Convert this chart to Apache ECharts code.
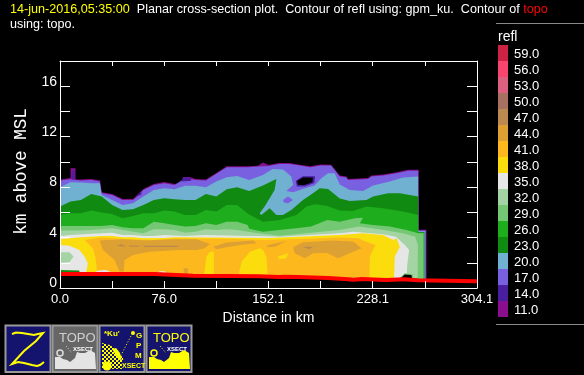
<!DOCTYPE html>
<html>
<head>
<meta charset="utf-8">
<style>html,body{margin:0;padding:0;background:#000}#main{width:584px;height:375px}</style>
<script src="https://cdn.jsdelivr.net/npm/echarts@6/dist/echarts.min.js"></script>
</head>
<body>
<div id="main"></div>
<script>
// colour scale, top to bottom
var levels = ['59.0','56.0','53.0','50.0','47.0','44.0','41.0','38.0','35.0','32.0','29.0','26.0','23.0','20.0','17.0','14.0','11.0'];
var levelColors = ['#cc2244','#f8456f','#dc6080','#a87060','#bc8a50','#dda033','#fdb81e','#fbdc0d','#e6e6e6','#a4d4a4','#74c874','#1dad1d','#118a11','#70b0d0','#7860e0','#4a1ea0','#8a0e8e'];
var xTickLabels = ['0.0','76.0','152.1','228.1','304.1'];

// contour outlines, [distance km, height km]
var top11 = [[0,8.6],[6.5,8.7],[7.7,8.75],[7.7,9.5],[11.3,9.5],[11.3,8.6],[15.2,8.6],[22.8,8.65],[29.3,8.52],[30.4,7.6],[38,7.45],[45.6,7.05],[53.2,7.05],[57,7.45],[60.8,7.85],[68.4,8.25],[76,8.4],[83.6,8.25],[88.6,8.4],[89.8,8.8],[94.7,8.8],[98.8,8.65],[106.4,8.6],[114,9.12],[121.6,9.65],[136.8,9.65],[144.4,9.7],[148,9.95],[152,9.75],[159.7,9.92],[167.3,9.92],[174.9,9.78],[182.5,9.65],[190,9.8],[197.7,9.78],[204,8.92],[208.9,8.84],[210,8.65],[224.7,8.73],[227,8.92],[235.6,9],[245.4,9.18],[253.9,9.37],[261.6,9.37],[261.6,4.62],[267.3,4.62],[267.3,0.5]];
var top17 = [[0,8.52],[7.6,8.62],[15.2,8.52],[22.8,8.57],[29,8.44],[30.4,7.51],[38,7.38],[45.6,6.98],[53.2,6.98],[57,7.3],[60.8,7.78],[68.4,8.17],[76,8.31],[83.6,8.17],[91.2,8.7],[98.8,8.57],[106.4,8.52],[114,9.05],[121.6,9.58],[136.8,9.58],[144.4,9.63],[152,9.68],[159.7,9.84],[167.3,9.84],[174.9,9.71],[182.5,9.58],[190,9.71],[197.7,9.71],[204,8.84],[208.9,8.76],[210,8.57],[224.7,8.65],[227,8.84],[235.6,8.92],[245.4,9.1],[253.9,9.29],[261.2,9.29],[261.2,4.55],[266.8,4.55],[266.8,0.5]];
var top20 = [[0,7.99],[7.6,8.39],[15.2,8.36],[22.8,8.31],[29,8.31],[30.4,7.38],[38,6.98],[45.6,6.59],[53.2,6.72],[60.8,7.25],[68.4,7.78],[76,7.91],[83.6,7.83],[91.2,8.1],[98.8,8.1],[106.4,7.99],[114,8.44],[121.6,8.78],[129.2,8.89],[138,8.57],[148,8.97],[155,9.44],[162.6,9.39],[168.7,8.84],[170,8.17],[165,7.7],[170,7.59],[177,7.86],[185.7,8.12],[190.6,8.7],[195.5,9.1],[200.3,9.1],[204,8.2],[211.3,7.78],[221,7.7],[228.3,8.12],[240.5,8.44],[250.2,8.76],[261.2,8.84],[261.2,4.5],[266.2,4.5],[266.2,0.5]];
var top23 = [[0,6.46],[7.6,6.85],[15.2,6.98],[22.8,7.46],[30.4,7.25],[38,6.59],[45.6,6.19],[53.2,6.24],[60.8,6.59],[68.4,6.98],[76,7.12],[83.6,7.04],[91.2,6.98],[98.8,6.98],[106.4,7.46],[114,7.25],[121.6,7.83],[129.2,7.99],[138,7.7],[148,8.12],[157.8,8.65],[156.5,7.78],[152.9,7.12],[149.2,6.46],[145.6,5.93],[146.8,5.79],[152.9,6.32],[157.8,5.79],[162.6,5.79],[168.7,6.19],[177.2,6.98],[184.5,7.51],[189.4,7.91],[195.5,7.86],[204,7.1],[211.3,6.9],[223.5,6.98],[228.3,7.25],[239.3,7.51],[247.8,7.51],[261.2,7.25],[261.2,4.45],[265.8,4.45],[265.8,0.5]];
var top26 = [[0,5.79],[7.6,5.93],[15.2,5.93],[22.8,6.14],[30.4,5.98],[38,5.87],[45.6,5.53],[53.2,5.71],[60.8,5.93],[68.4,5.93],[76,6.14],[83.6,6.06],[91.2,5.79],[98.8,5.79],[106.4,6.19],[114,6.06],[121.6,6.59],[129.2,6.59],[136.8,5.9],[148,5.26],[160.2,5.4],[172.4,5.79],[179.7,6.46],[185.7,6.64],[194.3,6.53],[204,6.15],[213.7,6.11],[223.5,6.46],[235.6,6.32],[250.2,6.06],[261.2,5.79],[261.2,4.4],[265.5,4.4],[265.5,0.5]];
var top29 = [[0,4.92],[30.4,4.92],[38,5],[45.6,4.81],[53.2,4.74],[60.8,4.74],[68.4,5.26],[76,5.13],[83.6,5],[91.2,4.87],[98.8,4.92],[106.4,5.13],[114,5],[121.6,5.26],[129.2,5.26],[136.8,5],[138,4.7],[148,4.47],[160,4.6],[172,4.74],[183,4.87],[189,5.13],[195,5.4],[204,5.25],[215,5.53],[221,5.58],[218.6,5.13],[228.3,5],[240.5,4.87],[252.7,4.6],[261.2,4.34],[265.1,4.34],[265.1,0.5]];
var top32 = [[0,4.55],[15.2,4.55],[22.8,4.6],[30.4,4.66],[38,4.74],[45.6,4.6],[53.2,4.47],[60.8,4.34],[68.4,4.66],[76,4.66],[83.6,4.6],[91.2,4.39],[98.8,4.47],[106.4,4.66],[114,4.6],[121.6,4.66],[129.2,4.6],[136.8,4.47],[144.4,4.34],[160,4.15],[204,4.6],[218,4.87],[236,4.6],[250,4.34],[259,4.07],[261,3.41],[260.8,0.5]];
var top35 = [[0,4.13],[7.6,4.21],[30.4,4.34],[38,4.39],[45.6,4.21],[53,4.21],[61,4.13],[68,4.13],[76,4.21],[91,4.13],[106,4.21],[137,4.13],[144,4.13],[160,4.07],[204,4.34],[214,4.47],[235.6,4.26],[245,4.07],[251.5,3.41],[254.6,3.02],[253.2,1.83],[252.8,0.5]];
var top38 = [[0,3.86],[7.6,3.94],[15.2,4.02],[22.8,4.07],[30.4,4.13],[38,4.13],[45.6,4.02],[53,4.02],[61,3.94],[76,3.97],[84,4.02],[152,3.97],[204,4.2],[221,4.34],[235.6,4.21],[243,3.81],[245.4,3.94],[247.8,3.28],[244.2,2.49],[243.5,0.5]];
var top41 = [[17.9,3.81],[30,4],[46,3.88],[68,3.8],[84,3.93],[100,3.9],[120,3.9],[150,3.8],[190,3.95],[204,4],[218,3.95],[221,3.76],[230,3.41],[226,2.49],[225.6,0.5],[27,0.5],[27,1.3],[26,2.35],[24,3.15]];

// closed patches inside the bands
var yellowPatches = [
  [[104.4,0.5],[106.8,2.49],[109.3,2.88],[112.2,2.88],[112.2,0.5]],
  [[129.2,0.5],[132.4,2.09],[138.5,2.88],[145.8,3.15],[148,3.02],[150.5,2.49],[151.7,0.5]],
  [[159,2.49],[166.3,2.75],[165.1,2.35],[159.7,2.28]]
];
var top44Patches = [
  [[28.9,3.76],[45.9,3.86],[63,3.76],[82.5,3.86],[99.5,3.86],[109.3,3.49],[105.6,3.15],[99.5,3.02],[87.3,3.02],[65.4,2.88],[53.2,2.62],[47.1,2.22],[46.4,1.3],[43.5,1.3],[39.8,2.22],[31.3,3.02]],
  [[111.7,3.28],[121.4,3.6],[140.9,3.76],[143.3,3.54],[131.2,3.41],[121.4,3.23],[114.1,3.07]],
  [[151.7,3.41],[165.1,3.73],[156.6,3.28],[150.5,3.23]],
  [[170,3.23],[177.3,3.62],[199.2,3.76],[213.8,3.68],[219.9,3.15],[211.3,2.75],[202.8,2.35],[194.3,2.8],[184.6,2.75],[178.5,2.35],[171.2,2.75]],
  [[90.2,1.56],[93.4,1.56],[93.4,1.11],[90.2,1.11]]
];
var top47Patches = [
  [[41.5,3.33],[44.7,3.49],[48.4,3.28]],
  [[50.3,3.36],[57.6,3.36],[57.6,3.28],[50.3,3.28]],
  [[61,3.36],[86,3.36],[86,3.25],[61,3.25]],
  [[176.8,3.28],[184.6,3.28],[181.7,3.07]]
];
var whitePatches = [
  [[0,3.41],[6.9,3.36],[14.2,3.02],[17.9,2.49],[20.3,1.96],[19.1,1.2],[0,1.2]],
  [[23.5,1.11],[27.7,1.38],[33.7,1.43],[39,1.16]],
  [[69,1.03],[72.7,1.32],[76.4,1.32],[79.5,1]]
];
var paleGreenPatches = [[[0,2.83],[6.9,2.83],[9.9,2.49],[6.9,2.04],[0,2]]];
var darkGreenPatches = [
  [[0,1.43],[14,1.38],[14.5,1.1],[0,1.1]],
  [[26.4,1.16],[30,1.27],[35,1.27],[37.4,1.11]],
  [[71.5,1.11],[74,1.22],[77,1.11]]
];
var lightGreenPatches = [
  [[99,1.02],[152,0.98],[152,0.8],[99,0.8]],
  [[246.6,0.7],[251.4,1.16],[257.5,1.08],[257.5,0.7]]
];
var bluePatches = [[[1,1.25],[12,1.2],[12,1],[1,1]]];
var purplePatches = [[[162.6,6.98],[166.3,7.25],[169.9,6.98],[166.3,6.72],[163.4,6.77]]];
var top14Patches = [
  [[8.5,8.6],[8.5,9.3],[10.5,9.3],[10.5,8.6]],
  [[55.7,7.3],[59.3,7.65],[59.3,7.37]],
  [[88.6,8.44],[89.8,8.76],[94.7,8.76],[95.9,8.5]],
  [[0,1.3],[5,1.25],[5,1],[0,1]],
  [[171.9,8.49],[177,8.86],[186,8.86],[185.5,8.33],[178.4,8.05],[172.8,8.05]]
];
var emptyPatches = [
  [[172.8,8.49],[177.2,8.76],[184.5,8.76],[184,8.39],[178.4,8.17],[173.6,8.17]],
  [[247.8,0.7],[251.4,1.08],[256.3,1.03],[256.8,0.7]]
];

// topo line, stepped
var groundKm = [0,69,97,145.7,159,164,173.6,195.5,210,213.8,219.9,238.2,250.4,261.2,304.1];
var groundHeight = [1.11,0.98,0.93,0.87,0.9,0.87,0.79,0.69,0.66,0.71,0.63,0.69,0.61,0.53,0.53];

function color(level) { return levelColors[levels.indexOf(level)]; }
function band(level, points) {
  // a band outline closes down to the bottom of the plot
  var first = points[0], last = points[points.length - 1];
  return { color: color(level), points: points.concat([[last[0], 0], [first[0], 0]]) };
}
function patches(fill, list) {
  return list.map(function (points) { return { color: fill, points: points }; });
}
var layers = [].concat(
  band('11.0', top11), band('17.0', top17),
  patches(color('14.0'), top14Patches),
  band('20.0', top20), patches(color('17.0'), purplePatches),
  band('23.0', top23), band('26.0', top26), band('29.0', top29),
  band('32.0', top32), band('35.0', top35), band('38.0', top38),
  { color: color('41.0'), points: top41 },
  patches(color('38.0'), yellowPatches),
  patches(color('44.0'), top44Patches),
  patches(color('47.0'), top47Patches),
  patches(color('35.0'), whitePatches),
  patches(color('32.0'), paleGreenPatches),
  patches(color('23.0'), darkGreenPatches),
  patches(color('20.0'), bluePatches),
  patches(color('29.0'), lightGreenPatches),
  patches('#000', emptyPatches)
);

var sans = '"Liberation Sans", Helvetica, Arial, sans-serif';

// the colour key on the right
var keyItems = [
  { type: 'line', shape: { x1: 496, y1: 23.5, x2: 584, y2: 23.5 }, style: { stroke: '#8a8a8a' } },
  { type: 'line', shape: { x1: 496, y1: 324.5, x2: 584, y2: 324.5 }, style: { stroke: '#8a8a8a' } },
  { type: 'text', x: 498, y: 37, style: { text: 'refl', fill: '#fff', font: '14px ' + sans, verticalAlign: 'middle' } }
];
levels.forEach(function (level, i) {
  keyItems.push({ type: 'rect', shape: { x: 498, y: 45 + i * 16, width: 10, height: 16 }, style: { fill: levelColors[i] } });
  keyItems.push({ type: 'text', x: 514, y: 54.5 + i * 16, style: { text: level, fill: '#fff', font: '13px ' + sans, verticalAlign: 'middle' } });
});

// the four buttons under the plot
var NAVY = '#14146e', YELLOW = '#ffff00';
function box(x, fill) {
  return { type: 'rect', shape: { x: x + 0.5, y: 325.5, width: 45, height: 46.5 }, style: { fill: fill, stroke: '#9a9a9a', lineWidth: 2 } };
}
function label(text, x, y, fill, font) {
  return { type: 'text', x: x, y: y, style: { text: text, fill: fill, font: font, verticalAlign: 'middle' } };
}
function topoIcon(dx, ground, ink) {
  var terrain = [[55,369],[55,357],[60,357],[63,359],[67,360],[70,362],[75,358],[77,352],[80,353],[85,353],[90,350],[95,353],[96,369]];
  return [
    label('TOPO', 59 + dx, 338, ink, '13px ' + sans),
    label('XSECT', 73 + dx, 349, '#fff', 'bold 6px ' + sans),
    { type: 'polygon', shape: { points: terrain.map(function (p) { return [p[0] + dx, p[1]]; }) }, style: { fill: ground } },
    { type: 'circle', shape: { cx: 60 + dx, cy: 353, r: 3 }, style: { fill: 'none', stroke: ink === YELLOW ? YELLOW : '#ddd', lineWidth: 1.5 } },
    { type: 'line', shape: { x1: 66 + dx, y1: 346, x2: 72 + dx, y2: 353 }, style: { stroke: ground, lineDash: [1, 2] } }
  ];
}
var checker = document.createElement('canvas');
checker.width = checker.height = 4;
var c2d = checker.getContext('2d');
c2d.fillStyle = NAVY; c2d.fillRect(0, 0, 4, 4);
c2d.fillStyle = YELLOW; c2d.fillRect(0, 0, 2, 2); c2d.fillRect(2, 2, 2, 2);

var iconItems = [
  box(5, NAVY), box(52, '#666'), box(99, NAVY), box(146, NAVY),
  { type: 'polyline', shape: { points: [[12,334],[16,332.5],[22,333],[28,334],[34,335],[38,334],[43,333],[36,341],[24,351],[12,364],[18,362],[24,363],[32,365],[37,366],[40,365],[44,362]] }, style: { fill: 'none', stroke: YELLOW, lineWidth: 2 } },
  label('*Ku\'', 104, 334, YELLOW, 'bold 8px ' + sans),
  label('G', 136, 336, YELLOW, 'bold 8px ' + sans),
  label('P', 136, 346, YELLOW, 'bold 8px ' + sans),
  label('M', 135, 356, YELLOW, 'bold 8px ' + sans),
  { type: 'polygon', shape: { points: [[102,343],[110,345],[117,350],[123,358],[124,369],[102,369]] }, style: { fill: { image: checker, repeat: 'repeat' } } },
  { type: 'polygon', shape: { points: [[112,349],[116,348],[120,353],[122,361],[117,357]] }, style: { fill: YELLOW } },
  { type: 'circle', shape: { cx: 107, cy: 366, r: 4.5 }, style: { fill: YELLOW } },
  { type: 'rect', shape: { x: 122, y: 361, width: 21, height: 9 }, style: { fill: NAVY } },
  label('XSECT', 122, 366, YELLOW, 'bold 7px ' + sans),
  { type: 'line', shape: { x1: 118, y1: 361, x2: 132, y2: 334 }, style: { stroke: YELLOW, lineDash: [1, 2] } },
  { type: 'circle', shape: { cx: 133, cy: 333, r: 2 }, style: { fill: YELLOW } }
].concat(topoIcon(0, '#e4e4e4', '#d0d0d0'), topoIcon(94, YELLOW, YELLOW));

var chart = echarts.init(document.getElementById('main'), null, { renderer: 'canvas' });
var whiteLine = { show: true, onZero: false, lineStyle: { color: '#fff', width: 1 } };
function ticks(length) {
  return { show: true, inside: true, length: length, lineStyle: { color: '#fff', width: 1 } };
}
chart.setOption({
  backgroundColor: '#000',
  animation: false,
  title: {
    left: 10, top: 2, padding: 0, itemGap: 0,
    text: '{d|14-jun-2016,05:35:00}{w|  Planar cross-section plot.  Contour of refl using: gpm_ku.  Contour of }{r|topo}\n{w|using: topo.}',
    textStyle: {
      fontWeight: 'normal',
      rich: {
        d: { color: '#ffff00', fontSize: 12.6, fontWeight: 'normal', fontFamily: sans, lineHeight: 15 },
        w: { color: '#fff', fontSize: 12.6, fontWeight: 'normal', fontFamily: sans, lineHeight: 15 },
        r: { color: '#ff0000', fontSize: 12.6, fontWeight: 'normal', fontFamily: sans, lineHeight: 15 }
      }
    }
  },
  grid: { left: 60, top: 61, width: 417, height: 227, outerBoundsMode: 'none' },
  xAxis: [{
    type: 'value', min: 0, max: 304.1, interval: 38.0125, z: 10,
    name: 'Distance in km', nameLocation: 'middle', nameGap: 21,
    nameTextStyle: { color: '#fff', fontSize: 14, fontFamily: sans },
    axisLine: whiteLine, axisTick: ticks(7), splitLine: { show: false },
    axisLabel: {
      color: '#fff', fontSize: 13, fontFamily: sans, margin: 5, showMinLabel: true, showMaxLabel: true, hideOverlap: false,
      formatter: function (v) {
        var i = Math.round(v / 38.0125);
        return i % 2 === 0 ? xTickLabels[i / 2] : '';
      }
    }
  }, {
    type: 'value', position: 'top', min: 0, max: 304.1, interval: 38.0125, z: 10,
    axisLine: whiteLine, axisTick: ticks(5), axisLabel: { show: false }, splitLine: { show: false }
  }],
  yAxis: [{
    type: 'value', min: 0, max: 18, interval: 2, z: 10,
    name: 'km above MSL', nameLocation: 'middle', nameGap: 29, nameRotate: 90,
    nameTextStyle: { color: '#fff', fontSize: 17.6, fontFamily: '"Liberation Mono", monospace', padding: [0, 0, 0, 6] },
    axisLine: whiteLine, axisTick: ticks(10), splitLine: { show: false },
    axisLabel: {
      color: '#fff', fontSize: 14, fontFamily: sans, margin: 3, verticalAlign: 'bottom', lineHeight: 9, showMinLabel: true,
      formatter: function (v) { return v % 4 === 0 && v < 18 ? String(v) : ''; }
    }
  }, {
    type: 'value', position: 'right', min: 0, max: 18, interval: 2, z: 10,
    axisLine: whiteLine, axisTick: ticks(10), axisLabel: { show: false }, splitLine: { show: false }
  }],
  series: [{
    type: 'custom', name: 'refl', coordinateSystem: 'cartesian2d', xAxisIndex: 0, yAxisIndex: 0, silent: true, z: 2,
    data: layers.map(function (l, i) { return [i]; }),
    renderItem: function (params, api) {
      var layer = layers[params.dataIndex];
      return {
        type: 'polygon',
        shape: { points: layer.points.map(function (p) { return api.coord(p); }) },
        style: { fill: layer.color }
      };
    }
  }, {
    type: 'line', name: 'topo', xAxisIndex: 0, yAxisIndex: 0, step: 'end', showSymbol: false, silent: true, z: 3,
    data: groundKm.map(function (km, i) { return [km, groundHeight[i]]; }),
    lineStyle: { color: '#ff0000', width: 4 },
    areaStyle: { color: '#000', opacity: 1, origin: 'start' }
  }],
  graphic: { elements: keyItems.concat(iconItems) }
});
</script>
</body>
</html>
